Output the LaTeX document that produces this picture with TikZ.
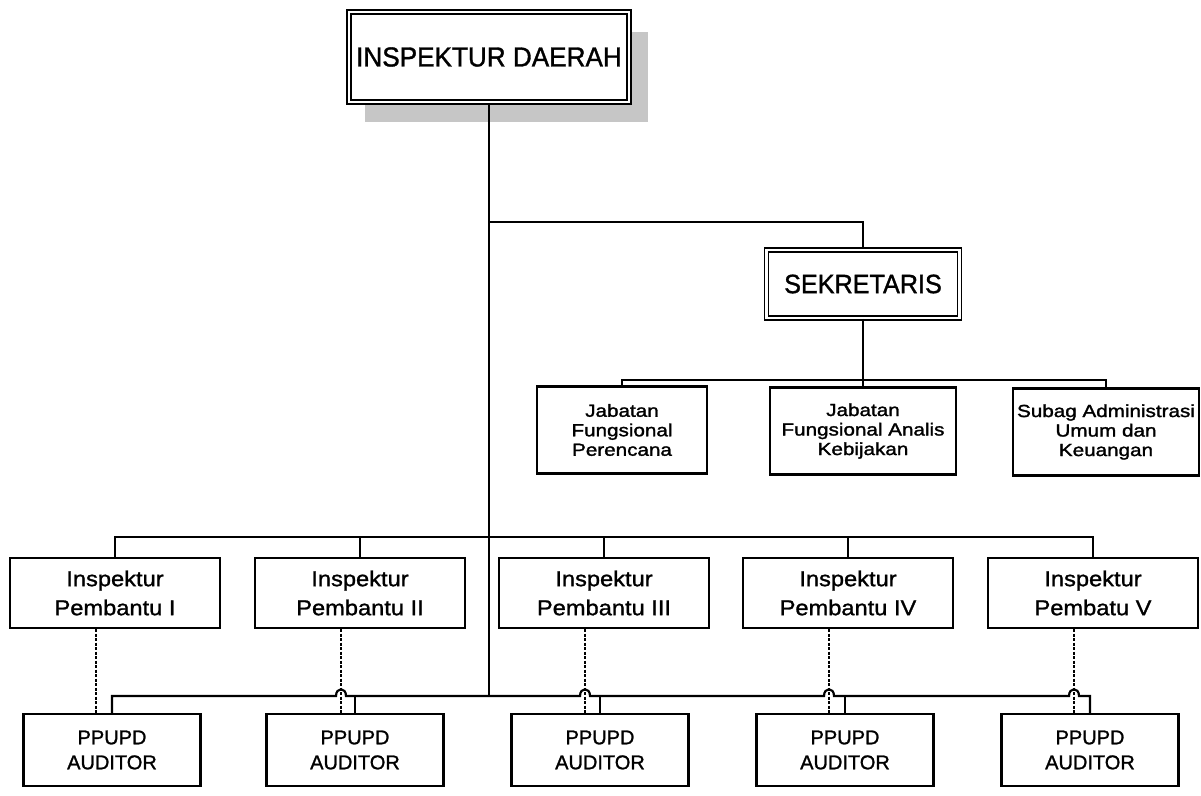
\documentclass[tikz,border=0pt]{standalone}
\usepackage{fontspec}
\setmainfont{Liberation Sans}[FakeBold=1]
\newfontfamily\titlefont[FakeStretch=0.95,FakeBold=1.2]{Liberation Sans}
\newfontfamily\pbfont[FakeStretch=1.1,FakeBold=1.2]{Liberation Sans}
\newfontfamily\audfont[FakeBold=1.2]{Liberation Sans}
\newfontfamily\jabfont[FakeStretch=1.18,FakeBold=1.6]{Liberation Sans}
\usetikzlibrary{calc}
\begin{document}
\begin{tikzpicture}[x=1pt,y=-1pt,
  ln/.style={line width=2.2pt},
  dsh/.style={line width=2.2pt, dash pattern=on 3pt off 1.5pt},
  box/.style={draw, line width=2.2pt, inner sep=0pt, align=center, fill=white},
  dbox/.style={draw, line width=1.5pt, double, double distance=2.4pt, inner sep=0pt, align=center, fill=white},
  topbox/.style={dbox, minimum width=280pt, minimum height=90pt, font=\titlefont\fontsize{27.5}{32}\selectfont},
  sekbox/.style={dbox, minimum width=193pt, minimum height=68pt, font=\titlefont\fontsize{26.5}{31}\selectfont},
  jabbox/.style={box, minimum height=87pt, font=\jabfont\fontsize{17.5}{19.5}\selectfont},
  pbbox/.style={box, minimum width=210pt, minimum height=70pt, font=\pbfont\fontsize{21.5}{29}\selectfont},
  audbox/.style={box, minimum width=177pt, minimum height=72pt, font=\audfont\fontsize{20}{25}\selectfont},
  shadow/.style={fill=gray!45}
]
\useasboundingbox (0,0) rectangle (1201,795);

% shadow of the top box
\fill[shadow] (365,104) rectangle (648,122);
\fill[shadow] (632,32) rectangle (648,122);

% nodes
\node[topbox] (ID) at (489,57) {INSPEKTUR DAERAH};
\node[sekbox] (SEK) at (863,284) {SEKRETARIS};

\node[jabbox, minimum width=170pt] (J1) at (622,430) {Jabatan\\Fungsional\\Perencana};
\node[jabbox, minimum width=186pt] (J2) at (863,431) {Jabatan\\Fungsional Analis\\Kebijakan};
\node[jabbox, minimum width=186pt] (J3) at (1106,432) {Subag Administrasi\\Umum dan\\Keuangan};

\node[pbbox] (P1) at (115,593) {Inspektur\\Pembantu I};
\node[pbbox] (P2) at (360,593) {Inspektur\\Pembantu II};
\node[pbbox] (P3) at (604,593) {Inspektur\\Pembantu III};
\node[pbbox] (P4) at (848,593) {Inspektur\\Pembantu IV};
\node[pbbox] (P5) at (1093,593) {Inspektur\\Pembatu V};

\node[audbox] (A1) at (112,750) {PPUPD\\AUDITOR};
\node[audbox] (A2) at (355,750) {PPUPD\\AUDITOR};
\node[audbox] (A3) at (600,750) {PPUPD\\AUDITOR};
\node[audbox] (A4) at (845,750) {PPUPD\\AUDITOR};
\node[audbox] (A5) at (1090,750) {PPUPD\\AUDITOR};

% bus coordinates
\coordinate (ub) at (489,222);
\coordinate (jb) at (863,380);
\coordinate (ib) at (489,537);
\coordinate (ab) at (489,696);

% connectors
\draw[ln] (ID.south) -- (ab);
\draw[ln] (ub) -| (SEK.north);
\draw[ln] (SEK.south) -- (jb);
\draw[ln] (J1.north) |- (jb) -| (J3.north);
\draw[ln] (J2.north) -- (J2.north |- jb);

\draw[ln] (P1.north) |- (ib) -| (P5.north);
\draw[ln] (P2.north) -- (P2.north |- ib);
\draw[ln] (P3.north) -- (P3.north |- ib);
\draw[ln] (P4.north) -- (P4.north |- ib);

% auditor bus with hops over the dashed lines
\draw[ln] (A1.north) |- (336,696)
  .. controls (336,687) and (346,687) .. (346,696) -- (580,696)
  .. controls (580,687) and (590,687) .. (590,696) -- (824,696)
  .. controls (824,687) and (834,687) .. (834,696) -- (1069,696)
  .. controls (1069,687) and (1079,687) .. (1079,696) -| (A5.north);
\draw[ln] (A2.north) -- (A2.north |- ab);
\draw[ln] (A3.north) -- (A3.north |- ab);
\draw[ln] (A4.north) -- (A4.north |- ab);

% dashed lines from Inspektur Pembantu to PPUPD Auditor
\draw[dsh] ([xshift=-19pt]P1.south) -- ([xshift=-19pt]P1.south |- A1.north);
\draw[dsh] ([xshift=-19pt]P2.south) -- ([xshift=-19pt]P2.south |- A2.north);
\draw[dsh] ([xshift=-19pt]P3.south) -- ([xshift=-19pt]P3.south |- A3.north);
\draw[dsh] ([xshift=-19pt]P4.south) -- ([xshift=-19pt]P4.south |- A4.north);
\draw[dsh] ([xshift=-19pt]P5.south) -- ([xshift=-19pt]P5.south |- A5.north);
\end{tikzpicture}
\end{document}
